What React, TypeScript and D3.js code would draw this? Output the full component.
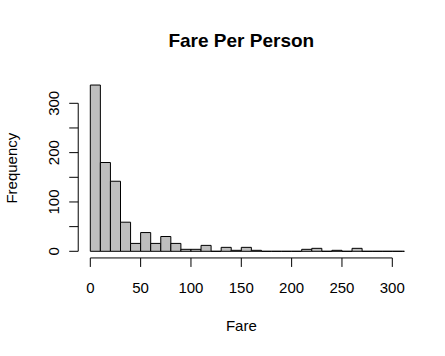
import React from "react";
import * as d3 from "d3";

const title = "Fare Per Person";
const xLabel = "Fare";
const yLabel = "Frequency";
const binWidth = 10;
const binStarts = d3.range(0, 320, 10);
const counts = [337, 180, 142, 59, 16, 38, 16, 30, 16, 4, 4, 12, 0, 8, 2, 8, 2, 0, 0, 0, 0, 4, 6, 0, 2, 0, 6, 0, 0, 0, 0, 0];
const xTicks = [0, 50, 100, 150, 200, 250, 300];
const yTicks = [0, 50, 100, 150, 200, 250, 300];
const yTickLabels = [0, 100, 200, 300];

const W = 445;
const H = 356;

export default function App() {
  const x = d3.scaleLinear().domain([0, 300]).range([90.3, 392.3]);
  const y = d3.scaleLinear().domain([0, 300]).range([251.3, 103.3]);
  const maxC = d3.max(counts) as number;
  const left = x(-12);
  const right = x(312);
  const top = y(maxC * 1.04);
  const bottom = y(-maxC * 0.04);
  const font = "Liberation Sans, Arial, sans-serif";
  const barPath = (i: number) => {
    const x0 = x(binStarts[i]);
    const x1 = x(binStarts[i] + binWidth);
    const y0 = y(0);
    const y1 = y(counts[i]);
    const p = d3.path();
    p.moveTo(x0, y0);
    p.lineTo(x1, y0);
    p.lineTo(x1, y1);
    p.lineTo(x0, y1);
    p.closePath();
    return p.toString();
  };
  return (
    <svg width={W} height={H} style={{ position: "absolute", left: 0, top: 0, background: "#fff" }} fontFamily={font}>
      <defs>
        <clipPath id="plotclip">
          <rect x={left} y={top} width={right - left} height={bottom - top} />
        </clipPath>
      </defs>
      <rect x={0} y={0} width={W} height={H} fill="#fff" />
      <g clipPath="url(#plotclip)">
        {counts.map((c, i) => (
          <path key={i} d={barPath(i)} fill="#bebebe" stroke="#000" strokeWidth={1} />
        ))}
      </g>
      {/* x axis */}
      <line x1={x(0)} x2={x(300)} y1={bottom} y2={bottom} stroke="#000" />
      {xTicks.map((t) => (
        <g key={t}>
          <line x1={x(t)} x2={x(t)} y1={bottom} y2={bottom + 9} stroke="#000" />
          <text x={x(t)} y={293.3} fontSize={15} textAnchor="middle" fill="#000">
            {t}
          </text>
        </g>
      ))}
      {/* y axis */}
      <line x1={left} x2={left} y1={y(0)} y2={y(300)} stroke="#000" />
      {yTicks.map((t) => (
        <line key={t} x1={left - 9} x2={left} y1={y(t)} y2={y(t)} stroke="#000" />
      ))}
      {yTickLabels.map((t) => (
        <text key={t} transform={`translate(59,${y(t)}) rotate(-90)`} fontSize={15} textAnchor="middle" fill="#000">
          {t}
        </text>
      ))}
      <text x={(left + right) / 2} y={331} fontSize={15} textAnchor="middle" fill="#000">
        {xLabel}
      </text>
      <text transform={`translate(17,${(top + bottom) / 2}) rotate(-90)`} fontSize={15} textAnchor="middle" fill="#000">
        {yLabel}
      </text>
      <text x={(left + right) / 2} y={47.3} fontSize={19} fontWeight="bold" textAnchor="middle" fill="#000">
        {title}
      </text>
    </svg>
  );
}
